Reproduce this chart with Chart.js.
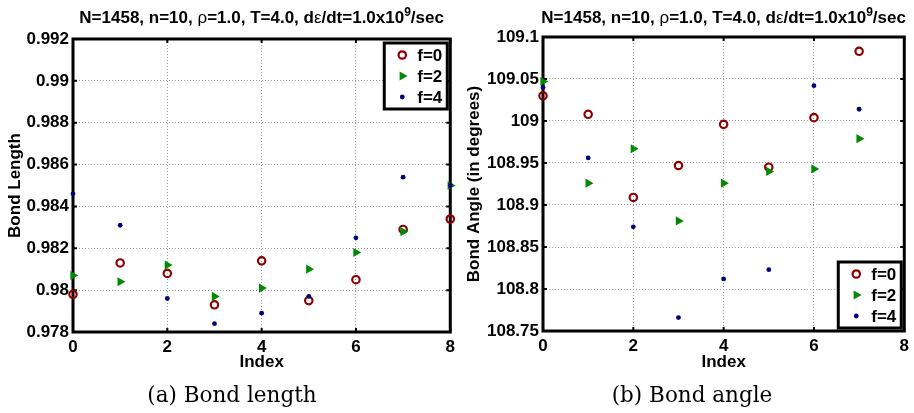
<!DOCTYPE html>
<html>
<head>
<meta charset="utf-8">
<script src="https://cdn.jsdelivr.net/npm/chart.js@4.4.0/dist/chart.umd.min.js"></script>
<style>
    body { margin: 0; background: #fff; width: 914px; height: 413px; overflow: hidden; position: relative; }
    .box { position: absolute; top: 0; height: 385px; }
    #boxLength { left: 0; width: 460px; }
    #boxAngle { left: 460px; width: 454px; }
    .caption { position: absolute; top: 384px; line-height: 21px; font-family: "DejaVu Serif", serif; font-size: 21.5px; color: #000; white-space: nowrap; transform: translateX(-50%); }
</style>
</head>
<body>
<div class="box" id="boxLength"><canvas id="lengthChart"></canvas></div>
<div class="box" id="boxAngle"><canvas id="angleChart"></canvas></div>
<div class="caption" style="left:232px">(a) Bond length</div>
<div class="caption" style="left:692px">(b) Bond angle</div>
<script>
// data
const indices = [0, 1, 2, 3, 4, 5, 6, 7, 8];
const seriesNames = ['f=0', 'f=2', 'f=4'];

const lengthF0 = [0.9798, 0.9813, 0.9808, 0.9793, 0.9814, 0.9795, 0.9805, 0.9829, 0.9834];
const lengthF2 = [0.9807, 0.9804, 0.9812, 0.9797, 0.9801, 0.9810, 0.9818, 0.9828, 0.9850];
const lengthF4 = [0.9846, 0.9831, 0.9796, 0.9784, 0.9789, 0.9797, 0.9825, 0.9854, 0.9850];

const angleF0 = [109.030, 109.008, 108.909, 108.947, 108.996, 108.945, 109.004, 109.083];
const angleF2 = [109.047, 108.926, 108.967, 108.881, 108.926, 108.940, 108.943, 108.979];
const angleF4 = [109.040, 108.956, 108.874, 108.766, 108.812, 108.823, 109.042, 109.014];

const indexTicks = [0, 2, 4, 6, 8];
const lengthTicks = [0.978, 0.980, 0.982, 0.984, 0.986, 0.988, 0.990, 0.992];
const angleTicks = [108.75, 108.80, 108.85, 108.90, 108.95, 109.00, 109.05, 109.10];

// title pieces: the greek letters look like a lighter symbol font
const titleParts = [
    { text: 'N=1458, n=10, ', kind: 'bold' },
    { text: 'ρ', kind: 'plain' },
    { text: '=1.0, T=4.0, d', kind: 'bold' },
    { text: 'ε', kind: 'plain' },
    { text: '/dt=1.0x10', kind: 'bold' },
    { text: '9', kind: 'sup' },
    { text: '/sec', kind: 'bold' }
];

const FONT = '"Liberation Sans", Arial, sans-serif';
const FSIZE = 17;
const colors = { f0: '#8c0000', f2: '#008a00', f4: '#00007a' };

function toPoints(values) {
    return values.map((v, i) => ({ x: indices[i], y: v }));
}

function makeDatasets(f0, f2, f4) {
    return [
        { label: seriesNames[0], data: toPoints(f0), pointStyle: 'circle', pointRadius: 3.7, pointBorderWidth: 2.2,
          borderColor: colors.f0, backgroundColor: 'rgba(0,0,0,0)', showLine: false, order: 3, clip: false },
        { label: seriesNames[1], data: toPoints(f2), pointStyle: 'triangle', rotation: 90, pointRadius: 5.3, pointBorderWidth: 0,
          borderColor: colors.f2, backgroundColor: colors.f2, showLine: false, order: 2, clip: false },
        { label: seriesNames[2], data: toPoints(f4), pointStyle: 'circle', pointRadius: 2.4, pointBorderWidth: 0,
          borderColor: colors.f4, backgroundColor: colors.f4, showLine: false, order: 1, clip: false }
    ];
}

// frame, inner tick marks, boxed legend and title, drawn the way matlab does it
const matlabLook = {
    id: 'matlabLook',
    beforeDatasetsDraw(chart) {
        const { ctx, chartArea: a, scales } = chart;
        ctx.save();
        ctx.strokeStyle = '#000';
        ctx.lineWidth = 2;
        ctx.beginPath();
        scales.x.ticks.forEach(t => {
            const px = scales.x.getPixelForValue(t.value);
            ctx.moveTo(px, a.bottom); ctx.lineTo(px, a.bottom - 4);
            ctx.moveTo(px, a.top); ctx.lineTo(px, a.top + 4);
        });
        scales.y.ticks.forEach(t => {
            const py = scales.y.getPixelForValue(t.value);
            ctx.moveTo(a.left, py); ctx.lineTo(a.left + 4, py);
            ctx.moveTo(a.right, py); ctx.lineTo(a.right - 4, py);
        });
        ctx.stroke();
        ctx.lineWidth = 3;
        ctx.strokeRect(a.left, a.top, a.right - a.left, a.bottom - a.top);
        ctx.restore();
    },
    afterDatasetsDraw(chart, args, opts) {
        const { ctx, chartArea: a } = chart;
        const w = 63, h = 66;
        const left = a.right - 3 - w;
        const top = opts.corner === 'top' ? a.top + 4 : a.bottom - 3 - h;
        ctx.save();
        ctx.fillStyle = '#fff';
        ctx.fillRect(left, top, w, h);
        ctx.strokeStyle = '#000';
        ctx.lineWidth = 3;
        ctx.strokeRect(left, top, w, h);
        chart.data.datasets.forEach((ds, i) => {
            const y = top + 12 + i * 21;
            const x = left + 18;
            ctx.beginPath();
            if (ds.pointStyle === 'triangle') {
                const r = ds.pointRadius;
                ctx.moveTo(x + r, y);
                ctx.lineTo(x - r / 2, y - r * 0.866);
                ctx.lineTo(x - r / 2, y + r * 0.866);
                ctx.closePath();
                ctx.fillStyle = ds.backgroundColor;
                ctx.fill();
            } else if (ds.pointBorderWidth > 0) {
                ctx.arc(x, y, ds.pointRadius, 0, Math.PI * 2);
                ctx.lineWidth = ds.pointBorderWidth;
                ctx.strokeStyle = ds.borderColor;
                ctx.stroke();
            } else {
                ctx.arc(x, y, ds.pointRadius, 0, Math.PI * 2);
                ctx.fillStyle = ds.backgroundColor;
                ctx.fill();
            }
            ctx.fillStyle = '#000';
            ctx.font = 'bold ' + FSIZE + 'px ' + FONT;
            ctx.textBaseline = 'middle';
            ctx.textAlign = 'left';
            ctx.fillText(ds.label, left + 33, y + 1);
        });
        ctx.restore();
    },
    afterDraw(chart) {
        const { ctx, chartArea: a } = chart;
        const fontFor = k => k === 'bold' ? 'bold ' + FSIZE + 'px ' + FONT : k === 'plain' ? FSIZE + 'px ' + FONT : 'bold 12px ' + FONT;
        ctx.save();
        ctx.fillStyle = '#000';
        ctx.textBaseline = 'alphabetic';
        ctx.textAlign = 'left';
        let total = 0;
        titleParts.forEach(p => { ctx.font = fontFor(p.kind); total += ctx.measureText(p.text).width; });
        let x = (a.left + a.right) / 2 - total / 2;
        const base = 23;
        titleParts.forEach(p => {
            ctx.font = fontFor(p.kind);
            ctx.fillText(p.text, x, p.kind === 'sup' ? base - 7 : base);
            x += ctx.measureText(p.text).width;
        });
        ctx.restore();
    }
};

function makeChart(canvasId, datasets, yTicks, yMin, yMax, yTitle, opt) {
    const tickFont = { family: FONT, size: FSIZE, weight: 'bold' };
    return new Chart(document.getElementById(canvasId), {
        type: 'scatter',
        data: { datasets: datasets },
        options: {
            responsive: true,
            maintainAspectRatio: false,
            animation: false,
            events: [],
            layout: { padding: { left: 0, right: opt.padRight, top: opt.padTop, bottom: 0 } },
            plugins: {
                legend: { display: false },
                tooltip: { enabled: false },
                matlabLook: { corner: opt.legendCorner }
            },
            scales: {
                x: {
                    type: 'linear', min: 0, max: 8,
                    afterBuildTicks: s => { s.ticks = indexTicks.map(v => ({ value: v })); },
                    afterFit: s => { s.height = opt.xHeight; },
                    grid: { color: '#9a9a9a', lineWidth: 1, drawTicks: false },
                    border: { display: false, dash: [1, 2] },
                    ticks: { color: '#000', font: tickFont, padding: 5, maxRotation: 0, autoSkip: false },
                    title: { display: true, text: 'Index', color: '#000', font: tickFont, padding: { top: 0, bottom: 12 } }
                },
                y: {
                    type: 'linear', min: yMin, max: yMax,
                    afterBuildTicks: s => { s.ticks = yTicks.map(v => ({ value: v })); },
                    afterFit: s => { s.width = opt.yWidth; },
                    grid: { color: '#9a9a9a', lineWidth: 1, drawTicks: false },
                    border: { display: false, dash: [1, 2] },
                    ticks: { color: '#000', font: tickFont, padding: 4, autoSkip: false,
                             callback: v => String(Number(v.toFixed(opt.digits))) },
                    title: { display: true, text: yTitle, color: '#000', font: tickFont, padding: { top: opt.yTitlePad, bottom: 0 } }
                }
            }
        },
        plugins: [matlabLook]
    });
}

makeChart('lengthChart', makeDatasets(lengthF0, lengthF2, lengthF4), lengthTicks, 0.978, 0.992, 'Bond Length',
    { padRight: 9, padTop: 39, xHeight: 53, yWidth: 73, digits: 3, yTitlePad: 5, legendCorner: 'top' });
makeChart('angleChart', makeDatasets(angleF0, angleF2, angleF4), angleTicks, 108.75, 109.1, 'Bond Angle (in degrees)',
    { padRight: 2, padTop: 37, xHeight: 54, yWidth: 83, digits: 2, yTitlePad: 4, legendCorner: 'bottom' });
</script>
</body>
</html>
